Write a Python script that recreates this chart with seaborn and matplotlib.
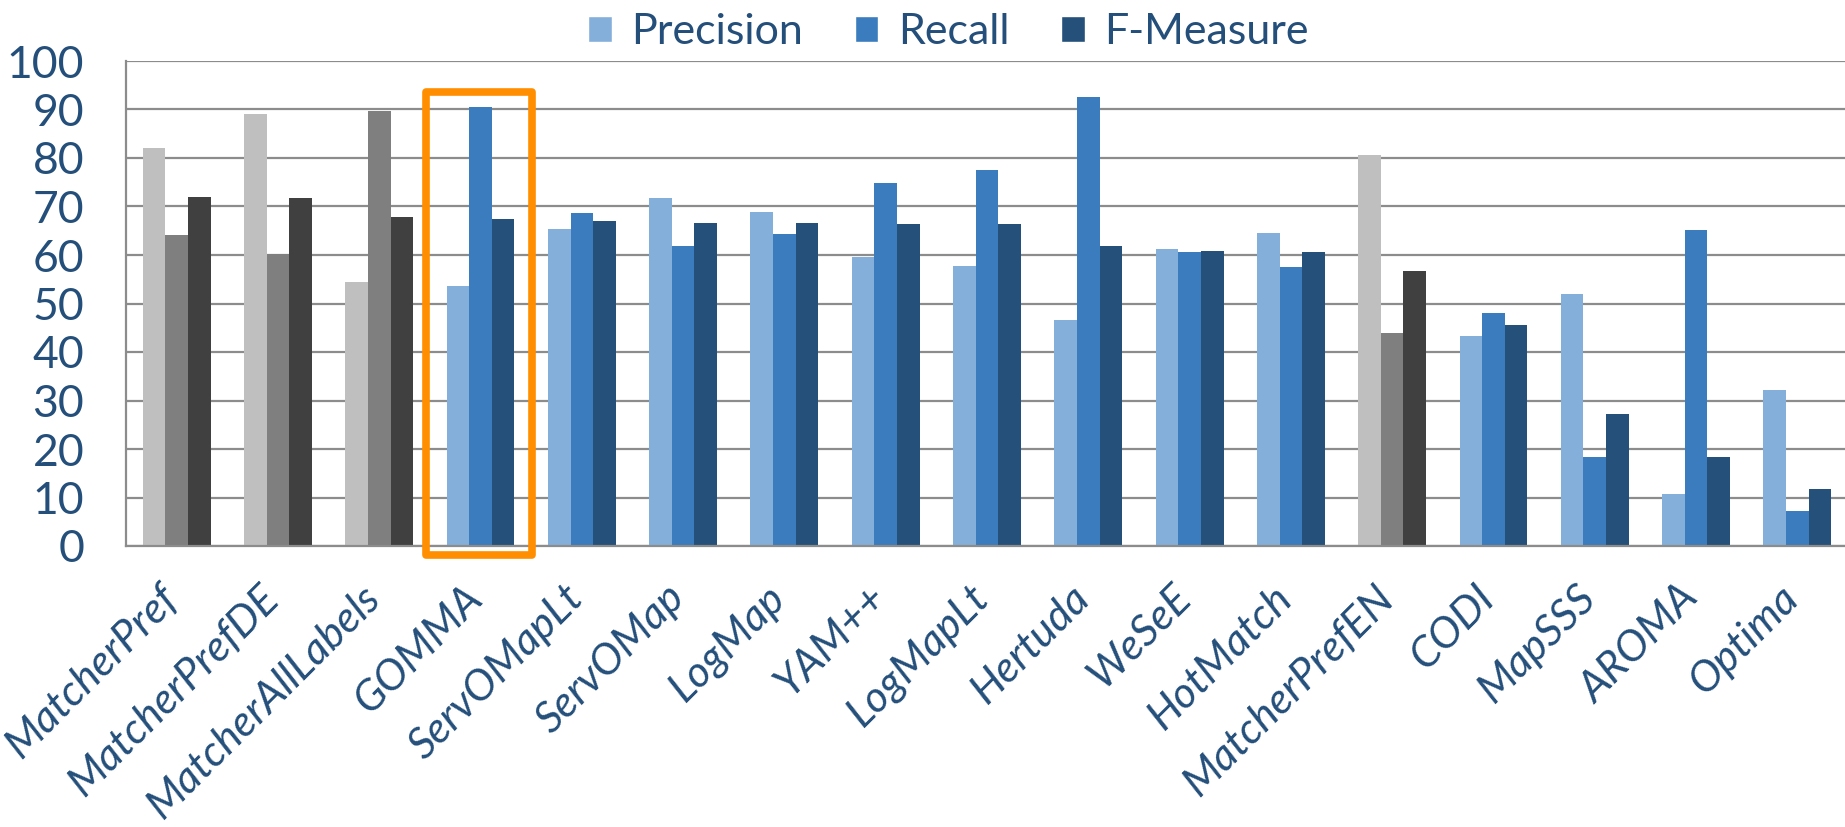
import numpy as np
import pandas as pd
import matplotlib
matplotlib.use("Agg")
import matplotlib.pyplot as plt
import matplotlib.transforms as mtransforms
from matplotlib.patches import Patch, Rectangle
import seaborn as sns

systems = ["MatcherPref", "MatcherPrefDE", "MatcherAllLabels", "GOMMA", "ServOMapLt",
           "ServOMap", "LogMap", "YAM++", "LogMapLt", "Hertuda", "WeSeE", "HotMatch",
           "MatcherPrefEN", "CODI", "MapSSS", "AROMA", "Optima"]
precision = [82.1, 89.0, 54.4, 53.7, 65.4, 71.8, 68.8, 59.6, 57.7, 46.5, 61.3, 64.5, 80.7, 43.4, 52.0, 10.7, 32.1]
recall = [64.1, 60.2, 89.6, 90.6, 68.7, 61.9, 64.3, 74.9, 77.6, 92.5, 60.7, 57.5, 44.0, 48.1, 18.4, 65.2, 7.2]
fmeasure = [71.9, 71.8, 67.8, 67.4, 67.0, 66.5, 66.5, 66.4, 66.3, 61.9, 60.8, 60.7, 56.8, 45.6, 27.2, 18.4, 11.8]
measures = ["Precision", "Recall", "F-Measure"]
grey_systems = ["MatcherPref", "MatcherPrefDE", "MatcherAllLabels", "MatcherPrefEN"]
highlight = "GOMMA"

blues = ["#84AFDA", "#3A7CBE", "#24507A"]
greys = ["#BFBFBF", "#7F7F7F", "#404040"]
txt = "#244F7A"
gridc = "#8C8C8C"

sns.set_style("white")
plt.rcParams["font.family"] = ["Lato", "DejaVu Sans"]
plt.rcParams["font.size"] = 30

df = pd.DataFrame({"system": systems * 3,
                   "measure": np.repeat(measures, len(systems)),
                   "value": precision + recall + fmeasure})

fig = plt.figure(figsize=(18.45, 8.27), dpi=100)
ax = fig.add_axes([126/1845, 1-546/827, 1722/1845, (546-61)/827])

sns.barplot(data=df, x="system", y="value", hue="measure", order=systems,
            hue_order=measures, palette=blues, width=0.67, gap=0, saturation=1,
            legend=False, ax=ax)

# grey out the Matcher* runs
for i, cont in enumerate(ax.containers):
    for j, bar in enumerate(cont.patches):
        bar.set_linewidth(0)
        if systems[j] in grey_systems:
            bar.set_facecolor(greys[i])

ax.set_xlim(-0.5, len(systems) - 0.5)
ax.set_ylim(0, 100)
ax.set_yticks(np.arange(0, 101, 10))
ax.set_axisbelow(True)
ax.yaxis.grid(True, color=gridc, lw=1.6)
ax.set_xlabel("")
ax.set_ylabel("")

for s in ["top", "right"]:
    ax.spines[s].set_visible(False)
for s in ["left", "bottom"]:
    ax.spines[s].set_color(gridc)
    ax.spines[s].set_linewidth(1.6)

ax.tick_params(axis="y", length=10, width=1.5, color=gridc, pad=20,
               labelsize=32, labelcolor=txt)
ax.set_xticks(np.arange(-0.5, len(systems), 1), minor=True)
ax.tick_params(axis="x", which="minor", length=10, width=1.5, color=gridc, direction="out")
ax.tick_params(axis="x", which="major", length=0, pad=23)
ax.set_xticks(range(len(systems)))
ax.set_xticklabels(systems, rotation=45, ha="right", va="top", rotation_mode="anchor",
                   fontsize=31, style="italic", color=txt)
offset = mtransforms.ScaledTranslation(-18/100, 0, fig.dpi_scale_trans)
for lab in ax.get_xticklabels():
    lab.set_transform(lab.get_transform() + offset)

# orange box around GOMMA
k = systems.index(highlight)
ax.add_patch(Rectangle((k - 0.54, -1.9), 1.05, 95.5, fill=False, ec="#FF8F00",
                       lw=5.5, joinstyle="round", clip_on=False, zorder=5))

handles = [Patch(facecolor=c, label=m) for c, m in zip(blues, measures)]
fig.legend(handles=handles, loc="center", bbox_to_anchor=(0.514, 0.961), ncol=3,
           frameon=False, fontsize=31, labelcolor=txt, handlelength=0.55,
           handleheight=0.55, handletextpad=0.45, columnspacing=1.2, borderpad=0)

fig.savefig("out.png", dpi=100)
